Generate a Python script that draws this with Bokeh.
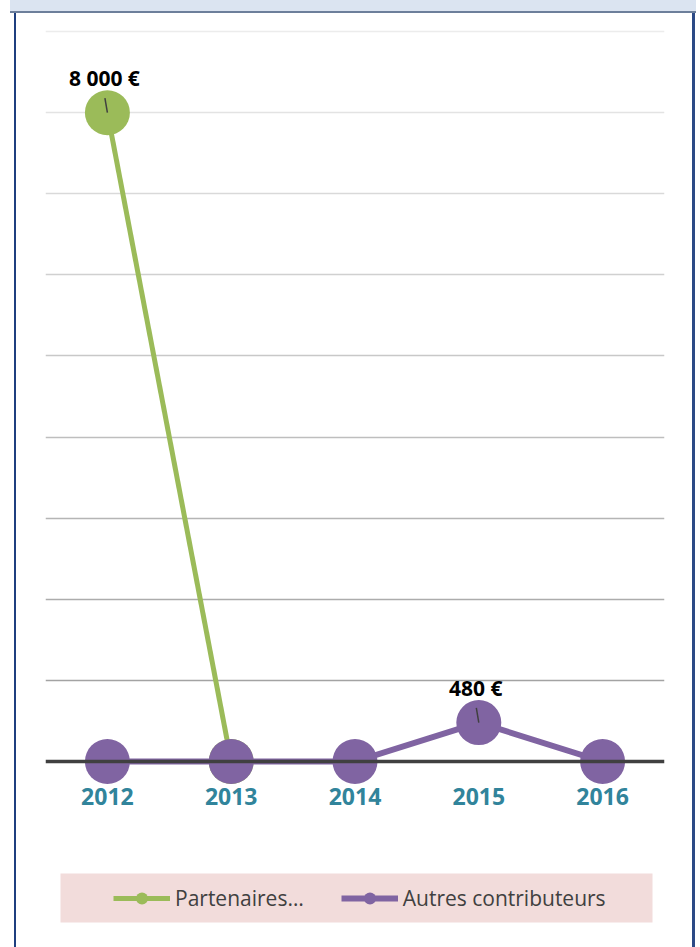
from bokeh.plotting import figure
from bokeh.models import (Range1d, FactorRange, Grid, FixedTicker, Legend, LegendItem,
                          BoxAnnotation, ColumnDataSource)
from bokeh.core.properties import value
from bokeh.transform import dodge
from bokeh.embed import file_html
from bokeh.resources import INLINE

# ---- data ----
years = ["2012", "2013", "2014", "2015", "2016"]
partenaires = [8000, 0, float("nan"), float("nan"), float("nan")]
autres = [0, 0, 0, 480, 0]
label_years = ["2012", "2015"]
label_values = [8000, 480]
label_texts = ["8 000 €", "480 €"]
grid_values = [1000, 2000, 3000, 4000, 5000, 6000, 7000, 8000, 9000]
series_names = ["Partenaires…", "Autres contributeurs"]

# ---- style ----
GREEN = "#9bbb59"
PURPLE = "#8064a2"
grid_colors = ["#a3a3a3", "#acacac", "#b5b5b5", "#bebebe", "#c8c8c8",
               "#d0d0d0", "#d9d9d9", "#e3e3e3", "#ececec"]

# frame decorations drawn behind the (transparent) canvas border area
page_styles = {
    "background-color": "white",
    "background-image": ("linear-gradient(#dbe4f1,#dbe4f1), linear-gradient(#6d7f9b,#6d7f9b), "
                         "linear-gradient(#1f3f7f,#1f3f7f), linear-gradient(#2c4a86,#2c4a86)"),
    "background-position": "10px 0px, 10px 11px, 14px 12px, 692px 12px",
    "background-size": "686px 11px, 686px 2px, 2px 935px, 3px 935px",
    "background-repeat": "no-repeat",
}

Y_TOP = 9050
Y_BOTTOM = -2293   # room below zero for the axis labels and the legend

p = figure(width=700, height=947, x_range=FactorRange(*years), y_range=Range1d(Y_BOTTOM, Y_TOP),
           output_backend="svg", toolbar_location=None,
           min_border_left=45, min_border_right=36, min_border_top=27, min_border_bottom=0,
           styles=page_styles)
p.outline_line_color = None
p.background_fill_color = "white"
p.border_fill_alpha = 0
p.yaxis.visible = False
p.xgrid.visible = False
p.ygrid.visible = False

for v, c in zip(grid_values, grid_colors):
    p.add_layout(Grid(dimension=1, ticker=FixedTicker(ticks=[v]),
                      grid_line_color=c, grid_line_width=1.5))

ax = p.xaxis[0]
ax.fixed_location = 0
ax.axis_line_color = "#404040"
ax.axis_line_width = 3.5
ax.major_tick_line_color = None
ax.minor_tick_line_color = None
ax.major_label_text_font = "Open Sans"
ax.major_label_text_font_style = "bold"
ax.major_label_text_font_size = "23px"
ax.major_label_text_color = "#31849b"
ax.major_label_standoff = 20

src = ColumnDataSource(dict(x=years, p=partenaires, a=autres))
gl = p.line("x", "p", source=src, line_color=GREEN, line_width=5)
gs = p.scatter("x", "p", source=src, size=45, fill_color=GREEN, line_color=None)
pl = p.line("x", "a", source=src, line_color=PURPLE, line_width=6)
ps = p.scatter("x", "a", source=src, size=45, fill_color=PURPLE, line_color=None)

lsrc = ColumnDataSource(dict(x=label_years, y=label_values, t=label_texts,
                             y1=[v + 180 for v in label_values]))
p.segment(x0="x", y0="y", x1=dodge("x", -0.02, range=p.x_range), y1="y1", source=lsrc,
          line_color="#404040", line_width=1.5)
p.text(x="x", y="y", text="t", source=lsrc, text_font=value("Open Sans"),
       text_font_style="bold", text_font_size="21px", text_color="black",
       text_align="center", text_baseline="alphabetic", y_offset=-35, x_offset=-3)

# pink legend panel (screen units, relative to the frame's bottom-left corner)
p.add_layout(BoxAnnotation(left=15, right=607, top=74, bottom=25,
                           left_units="screen", right_units="screen",
                           top_units="screen", bottom_units="screen",
                           fill_color="#f2dcdb", fill_alpha=1, line_color=None,
                           level="underlay"))

legend = Legend(items=[LegendItem(label=series_names[0], renderers=[gl, gs]),
                       LegendItem(label=series_names[1], renderers=[pl, ps])],
                orientation="horizontal", location=(68, 34),
                padding=10, spacing=37, glyph_width=57, glyph_height=30,
                label_standoff=5, label_text_font="Open Sans",
                label_text_font_size="21px", label_text_color="#404040",
                background_fill_alpha=0, border_line_color=None, margin=0)
p.add_layout(legend)

open("out.html", "w").write(file_html(p, INLINE))
